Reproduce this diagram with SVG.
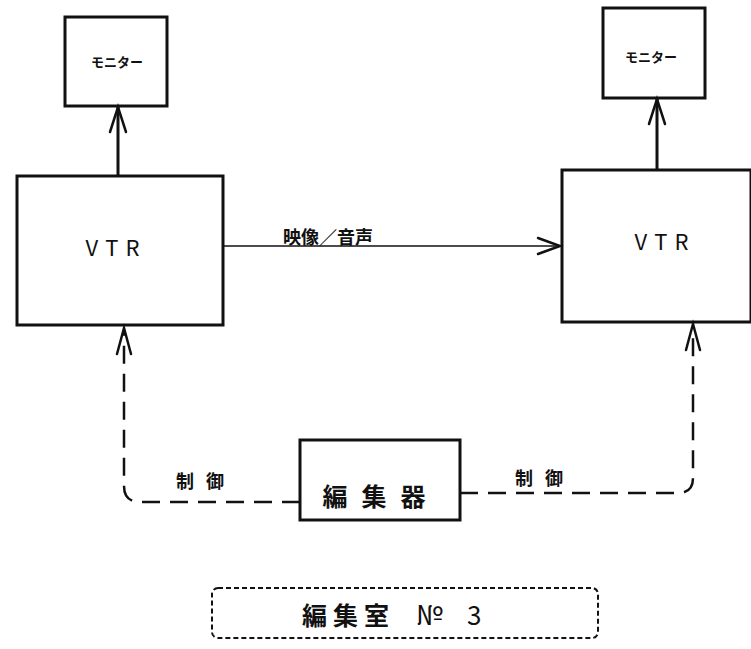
<svg xmlns="http://www.w3.org/2000/svg" width="751" height="649" viewBox="0 0 751 649">
<style>
.box{fill:none;stroke:#111;stroke-width:3}
.t{font-family:"Noto Sans CJK JP","Liberation Sans",sans-serif;fill:#111}
.b{font-weight:bold}
.solid{fill:none;stroke:#111;stroke-width:3}
.thin{fill:none;stroke:#111;stroke-width:1.5}
.dash{fill:none;stroke:#111;stroke-width:2.5;stroke-dasharray:18 10}
.head{fill:none;stroke:#111;stroke-width:2.5;stroke-linecap:round}
</style>
<rect width="751" height="649" fill="#fff"/>
<g id="monitor-left">
<rect class="box" x="65" y="17" width="102" height="89"/>
<text class="t b" x="117" y="67" font-size="13" text-anchor="middle">モニター</text>
</g>
<g id="monitor-right">
<rect class="box" x="603" y="8" width="102" height="90"/>
<text class="t b" x="651" y="62" font-size="13" text-anchor="middle">モニター</text>
</g>
<g id="vtr-left">
<rect class="box" x="17" y="176" width="206" height="149"/>
<text class="t" x="116" y="256" font-size="22" text-anchor="middle" letter-spacing="7">VTR</text>
</g>
<g id="vtr-right">
<rect class="box" x="562" y="170" width="189" height="152"/>
<text class="t" x="665" y="250" font-size="22" text-anchor="middle" letter-spacing="7">VTR</text>
</g>
<g id="editor">
<rect class="box" x="300" y="440" width="160" height="80"/>
<text class="t b" x="381" y="506" font-size="25" text-anchor="middle" letter-spacing="14">編集器</text>
</g>
<g id="room-label">
<rect x="212" y="588" width="386" height="50" rx="6" fill="none" stroke="#111" stroke-width="2" stroke-dasharray="5 3"/>
<text class="t b" x="302" y="625" font-size="25" letter-spacing="6">編集室</text>
<text class="t" x="416" y="625" font-size="27">№</text>
<text class="t" x="467" y="625" font-size="26" font-family="Liberation Sans,sans-serif">3</text>
</g>
<g id="connectors">
<line class="solid" x1="118" y1="176" x2="118" y2="107"/>
<path class="head" d="M110 132 L118 107 L126 132"/>
<line class="solid" x1="657" y1="170" x2="657" y2="99"/>
<path class="head" d="M649 124 L657 99 L665 124"/>
<line class="thin" x1="223" y1="246" x2="560" y2="246"/>
<path class="head" d="M538 238 L560 246 L538 254" stroke-width="1.8"/>
<text class="t b" x="283" y="244" font-size="18">映像／音声</text>
<path class="dash" d="M300 502 L140 502 Q124 502 124 486 L124 330"/>
<path class="head" d="M117 354 L124 328 L131 354"/>
<path class="dash" d="M460 493 L678 493 Q693 493 693 478 L693 326"/>
<path class="head" d="M686 350 L693 324 L700 350"/>
<text class="t b" x="176" y="488" font-size="18" letter-spacing="12">制御</text>
<text class="t b" x="515" y="485" font-size="18" letter-spacing="12">制御</text>
</g>
</svg>
